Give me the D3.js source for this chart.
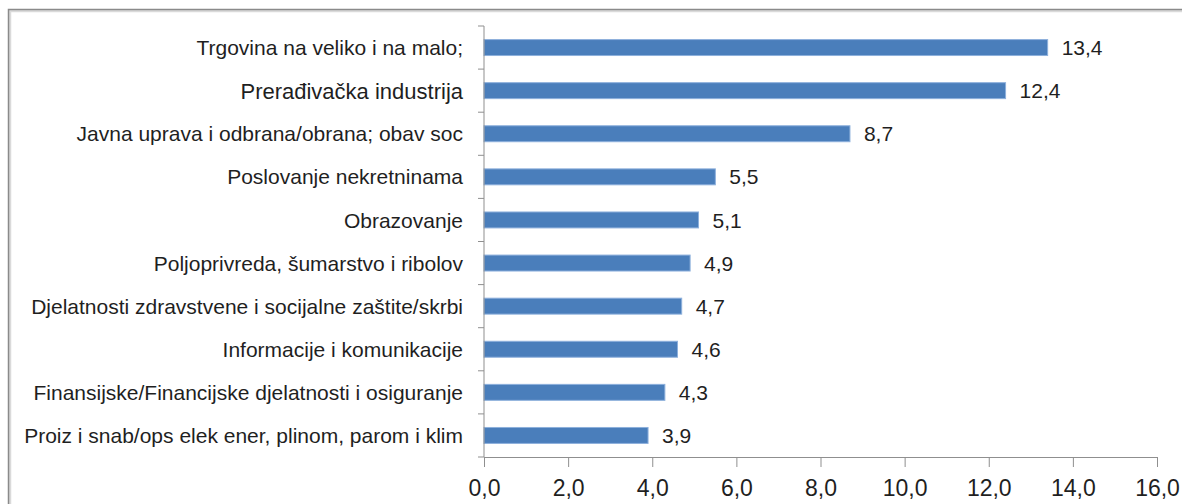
<!DOCTYPE html>
<html>
<head>
<meta charset="utf-8">
<script src="https://cdn.jsdelivr.net/npm/d3@7"></script>
<style>
  body { margin: 0; background: #fff; }
  svg { display: block; }
</style>
</head>
<body>
<div id="app"></div>
<script>
// Chart data
const categories = [
  "Trgovina na veliko i na malo;",
  "Prerađivačka industrija",
  "Javna uprava i odbrana/obrana; obav soc",
  "Poslovanje nekretninama",
  "Obrazovanje",
  "Poljoprivreda, šumarstvo i ribolov",
  "Djelatnosti zdravstvene i socijalne zaštite/skrbi",
  "Informacije i komunikacije",
  "Finansijske/Financijske djelatnosti i osiguranje",
  "Proiz i snab/ops elek ener, plinom, parom i klim"
];
const values = [13.4, 12.4, 8.7, 5.5, 5.1, 4.9, 4.7, 4.6, 4.3, 3.9];
const xTicks = [0, 2, 4, 6, 8, 10, 12, 14, 16];

const width = 1182;
const height = 504;
const plotLeft = 484;
const plotRight = 1157;
const plotTop = 26;
const plotBottom = 457;

const font = "'Liberation Sans', Arial, sans-serif";
const locale = d3.formatLocale({ decimal: ",", thousands: ".", grouping: [3], currency: ["", ""] });
const fmt = locale.format(".1f");

const svg = d3.select("#app")
  .append("svg")
  .attr("width", width)
  .attr("height", height);

// Chart frame
svg.append("rect")
  .attr("x", 10).attr("y", 11)
  .attr("width", width + 20).attr("height", height + 20)
  .attr("fill", "none")
  .attr("stroke", "#dadada")
  .attr("stroke-width", 2.5);
svg.append("rect")
  .attr("x", 8.5).attr("y", 9.5)
  .attr("width", width + 20).attr("height", height + 20)
  .attr("fill", "none")
  .attr("stroke", "#8a8a8a")
  .attr("stroke-width", 1.5);

// Scales
const xScale = d3.scaleLinear()
  .domain([0, 16])
  .range([plotLeft, plotRight]);

const yScale = d3.scaleBand()
  .domain(categories)
  .range([plotTop, plotBottom])
  .paddingInner(0.63)
  .paddingOuter(0.315);

const step = yScale.step();

// Bars
svg.selectAll("rect.bar")
  .data(categories)
  .enter()
  .append("rect")
  .attr("class", "bar")
  .attr("x", xScale(0))
  .attr("y", d => yScale(d))
  .attr("width", (d, i) => xScale(values[i]) - xScale(0))
  .attr("height", yScale.bandwidth())
  .attr("fill", "#4a7ebb")
  .attr("stroke", "#8db0dc")
  .attr("stroke-width", 1);

// Value labels
svg.selectAll("text.value")
  .data(categories)
  .enter()
  .append("text")
  .attr("class", "value")
  .attr("x", (d, i) => xScale(values[i]) + 14)
  .attr("y", d => yScale(d) + yScale.bandwidth() / 2)
  .attr("dy", "0.36em")
  .attr("font-family", font)
  .attr("font-size", 21)
  .attr("fill", "#1f1f1f")
  .text((d, i) => fmt(values[i]));

// Y axis: line with ticks at category boundaries
const yAxis = svg.append("g").attr("id", "y-axis");
yAxis.append("line")
  .attr("x1", plotLeft).attr("x2", plotLeft)
  .attr("y1", plotTop).attr("y2", plotBottom)
  .attr("stroke", "#8f8f8f");
yAxis.selectAll("line.tick")
  .data(d3.range(categories.length + 1))
  .enter()
  .append("line")
  .attr("class", "tick")
  .attr("x1", plotLeft - 6).attr("x2", plotLeft)
  .attr("y1", i => plotTop + i * step)
  .attr("y2", i => plotTop + i * step)
  .attr("stroke", "#8f8f8f");

// Category labels
svg.selectAll("text.cat")
  .data(categories)
  .enter()
  .append("text")
  .attr("class", "cat")
  .attr("x", plotLeft - 21)
  .attr("y", d => yScale(d) + yScale.bandwidth() / 2)
  .attr("dy", "0.36em")
  .attr("text-anchor", "end")
  .attr("font-family", font)
  .attr("font-size", (d, i) => i === 1 ? 22 : 21)
  .attr("fill", "#1f1f1f")
  .text(d => d);

// X axis
const xAxis = d3.axisBottom(xScale)
  .tickValues(xTicks)
  .tickFormat(fmt)
  .tickSize(10)
  .tickSizeOuter(0)
  .tickPadding(13);

const gx = svg.append("g")
  .attr("id", "x-axis")
  .attr("transform", `translate(0, ${plotBottom})`)
  .call(xAxis);

gx.select(".domain").attr("stroke", "#8f8f8f");
gx.selectAll(".tick line").attr("stroke", "#8f8f8f");
gx.selectAll(".tick text")
  .attr("font-family", font)
  .attr("font-size", 23)
  .attr("fill", "#1f1f1f");
</script>
</body>
</html>
